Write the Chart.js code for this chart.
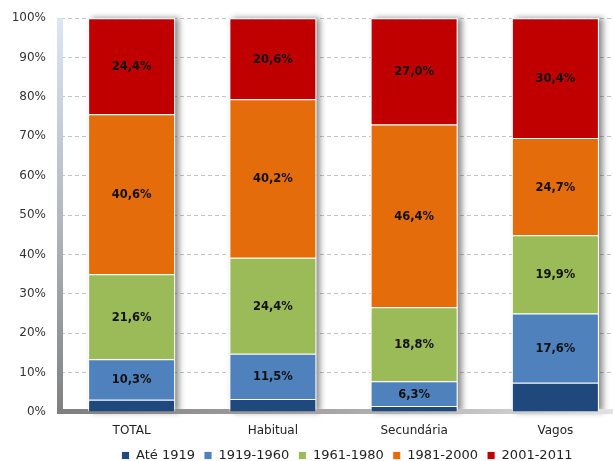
<!DOCTYPE html>
<html>
<head>
<meta charset="utf-8">
<script src="https://cdn.jsdelivr.net/npm/chart.js@4/dist/chart.umd.min.js"></script>
<style>
  html, body { margin: 0; padding: 0; background: #fff; overflow: hidden; }
  #wrap { width: 626px; height: 461px; position: relative; }
</style>
</head>
<body>
<div id="wrap"><canvas id="chart"></canvas></div>
<script>
const categories = ["TOTAL", "Habitual", "Secundária", "Vagos"];
const seriesNames = ["Até 1919", "1919-1960", "1961-1980", "1981-2000", "2001-2011"];
const ate1919 = [3.1, 3.3, 1.5, 7.4];
const p1919_1960 = [10.3, 11.5, 6.3, 17.6];
const p1961_1980 = [21.6, 24.4, 18.8, 19.9];
const p1981_2000 = [40.6, 40.2, 46.4, 24.7];
const p2001_2011 = [24.4, 20.6, 27.0, 30.4];
const colors = ["#1f497d", "#4f81bd", "#9bbb59", "#e46c0a", "#c00000"];

const FONT = "'DejaVu Sans', Verdana, sans-serif";

// Helpers
const getById = (id) => document.getElementById(id);
const fmt = (v) => v.toFixed(1).replace(".", ",") + "%";

// shadow behind each stack + the 3D-ish axis walls
const decoPlugin = {
  id: "deco",
  beforeDatasetsDraw(chart) {
    const { ctx, scales: { y }, chartArea } = chart;
    const meta = chart.getDatasetMeta(0);
    ctx.save();
    meta.data.forEach(bar => {
      const { x: bx, width } = bar.getProps(["x", "width"], true);
      ctx.save();
      ctx.shadowColor = "rgba(0, 0, 0, 0.45)";
      ctx.shadowBlur = 6;
      ctx.shadowOffsetX = 4;
      ctx.fillStyle = "#fff";
      const top = y.getPixelForValue(100);
      const bottom = y.getPixelForValue(0);
      ctx.fillRect(bx - width / 2, top, width, bottom - top);
      ctx.restore();
    });

    // left wall
    const g1 = ctx.createLinearGradient(0, chartArea.top, 0, chartArea.bottom);
    g1.addColorStop(0, "#dce6f4");
    g1.addColorStop(0.5, "#b4b8c0");
    g1.addColorStop(1, "#808080");
    ctx.fillStyle = g1;
    ctx.fillRect(chartArea.left - 4, chartArea.top, 6, chartArea.bottom - chartArea.top);

    // floor
    const g2 = ctx.createLinearGradient(chartArea.left, 0, chartArea.right, 0);
    g2.addColorStop(0, "#7f7f7f");
    g2.addColorStop(0.5, "#a8a8a8");
    g2.addColorStop(1, "#e4e4e4");
    ctx.fillStyle = g2;
    ctx.fillRect(chartArea.left - 4, chartArea.bottom - 3, chartArea.right - chartArea.left + 4, 5);
    ctx.restore();
  },
};

// value labels in the middle of each segment (first series unlabelled)
const labelPlugin = {
  id: "segLabels",
  afterDatasetsDraw(chart) {
    const { ctx } = chart;
    ctx.save();
    ctx.font = "bold 11.5px " + FONT;
    ctx.fillStyle = "#111";
    ctx.textAlign = "center";
    ctx.textBaseline = "middle";
    chart.data.datasets.forEach((ds, di) => {
      if (di === 0) return;
      chart.getDatasetMeta(di).data.forEach((bar, i) => {
        const { x, y, base } = bar.getProps(["x", "y", "base"], true);
        ctx.fillText(fmt(ds.data[i]), x, (y + base) / 2 + 1);
      });
    });
    ctx.restore();
  },
};

// put the legend centred under the plot, on the bottom line
const legendShift = {
  id: "legendShift",
  afterLayout(chart) {
    chart.legend.left = 68;
    chart.legend.right = 626;
    chart.legend.top = 461 - 21;
  },
};

const values = [ate1919, p1919_1960, p1961_1980, p1981_2000, p2001_2011];

new Chart(getById("chart").getContext("2d"), {
  type: "bar",
  data: {
    labels: categories,
    datasets: values.map((data, i) => ({
      label: seriesNames[i],
      data,
      backgroundColor: colors[i],
      borderColor: "rgba(255, 255, 255, 0.85)",
      borderWidth: 1,
      barPercentage: 0.616,
      categoryPercentage: 1,
    })),
  },
  options: {
    responsive: true,
    maintainAspectRatio: false,
    animation: false,
    layout: { padding: { top: 16, left: 0, right: 0, bottom: -13 } },
    plugins: {
      legend: {
        position: "bottom",
        labels: {
          boxWidth: 8,
          boxHeight: 8,
          padding: 9,
          color: "#222",
          font: { family: FONT, size: 13 },
        },
      },
      tooltip: { enabled: false },
    },
    scales: {
      x: {
        stacked: true,
        grid: { display: false, drawTicks: false },
        border: { display: false },
        ticks: { color: "#222", font: { family: FONT, size: 12 }, padding: 12 },
        afterFit: (s) => { s.height = 30; },
      },
      y: {
        stacked: true,
        min: 0,
        max: 100,
        ticks: {
          stepSize: 10,
          color: "#333",
          font: { family: FONT, size: 12 },
          padding: 11,
          callback: (v) => v + "%",
        },
        grid: {
          color: "#c4c4c4",
          tickLength: 4,
          tickColor: "#c4c4c4",
        },
        border: { display: false, dash: [4, 3] },
        afterFit: (s) => { s.width = 61; },
      },
    },
  },
  plugins: [decoPlugin, labelPlugin, legendShift],
});
</script>
</body>
</html>
